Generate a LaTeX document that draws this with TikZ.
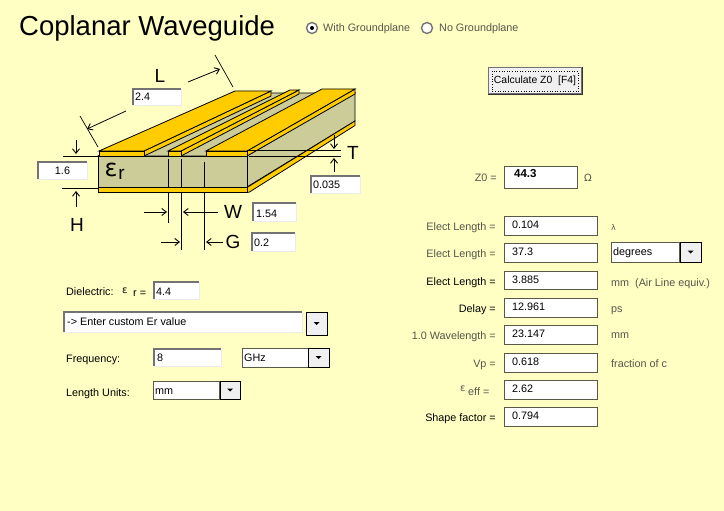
\documentclass[tikz,border=0pt]{standalone}
\usepackage{fontspec}
\setmainfont{Liberation Sans}
\newfontfamily\greekfont{DejaVu Sans}
\usetikzlibrary{arrows.meta,calc}
\definecolor{bgyel}{HTML}{FFFFC4}
\definecolor{gold}{HTML}{FFCC00}
\definecolor{diel}{HTML}{CCCC99}
\definecolor{dimtxt}{HTML}{55554A}
\definecolor{btn}{HTML}{F0F0F0}
\tikzset{
  edge/.style={draw=black,line width=0.8pt,line join=miter},
  goldface/.style={edge,fill=gold},
  dielface/.style={edge,fill=diel},
  dimline/.style={draw=black,line width=0.9pt},
  dimarrow/.style={draw=black,line width=0.8pt,-{Straight Barb[length=4.5pt,width=7pt,line width=0.9pt]}},
  ui/.style={font=\fontsize{10.8}{12}\selectfont,inner sep=0pt,anchor=base west,text=black},
  uidim/.style={ui,text=dimtxt},
  uir/.style={ui,anchor=base east},
  uirdim/.style={uidim,anchor=base east},
  biglab/.style={font=\fontsize{19}{20}\selectfont,inner sep=0pt,anchor=center},
  sunken/.style={fill=white,draw=none,inner sep=0pt},
  flatbox/.style={fill=white,draw=black!65!bgyel,line width=1pt,inner sep=0pt},
  combobtn/.style={fill=btn,draw=black,line width=1pt,inner sep=0pt},
}
% sunken field: name x1 y1 x2 y2
\newcommand{\sunkbox}[5]{%
  \node[sunken,minimum width={(#4-#2)*1pt},minimum height={(#5-#3)*1pt}] (#1) at ({(#2+#4)/2},{(#3+#5)/2}) {};
  \draw[draw=black!8,line width=1pt] (#1.north east) -- (#1.south east) -- (#1.south west);
  \draw[draw=black!55,line width=1.5pt] (#1.south west) -- (#1.north west) -- (#1.north east);
}
\newcommand{\flatfield}[5]{%
  \node[flatbox,minimum width={(#4-#2)*1pt},minimum height={(#5-#3)*1pt}] (#1) at ({(#2+#4)/2},{(#3+#5)/2}) {};
}
\newcommand{\dropbtn}[5]{%
  \node[combobtn,minimum width={(#4-#2)*1pt},minimum height={(#5-#3)*1pt}] (#1) at ({(#2+#4)/2},{(#3+#5)/2}) {};
  \fill[black] ($(#1.center)+(-3,-1.5)$) -- ++(6,0) -- ++(-3,3) -- cycle;
}
\begin{document}
\begin{tikzpicture}[x=1pt,y=-1pt]
\useasboundingbox (0,0) rectangle (724,511);
\fill[bgyel] (0,0) rectangle (724,511);

% title and radios
\node[inner sep=0pt,anchor=base west,font=\fontsize{27.5}{30}\selectfont] (title) at (19,36) {Coplanar Waveguide};
\node[circle,draw=black!55,fill=white,line width=1.4pt,minimum size=11pt,inner sep=0pt] (radA) at (312,28) {};
\fill[black] (radA.center) circle (2pt);
\node[uidim] (radAt) at (323,32) {With Groundplane};
\node[circle,draw=black!55,fill=white,line width=1.4pt,minimum size=11pt,inner sep=0pt] (radB) at (427,28) {};
\node[uidim] (radBt) at (439,32) {No Groundplane};

% calculate button
\node[fill=btn,draw=black!55,line width=1.5pt,minimum width=93pt,minimum height=26pt,inner sep=0pt] (calc) at (535,80.5) {};
\draw[black!80,line width=1pt] (calc.south west) -- (calc.south east) -- (calc.north east);
\draw[black,line width=0.6pt,dotted] (492,71) rectangle (578,91.5);
\node[ui,anchor=center,font=\fontsize{10.4}{12}\selectfont] (calct) at (535,81) {Calculate Z0\ \ [F4]};

% substrate
\path[dielface] (98,156) -- (235,93) -- (355,93) -- (247,156) -- cycle;
\path[dielface] (247,156) -- (355,93) -- (355,121) -- (247,187) -- cycle;
\path[dielface] (98,156) rectangle (247,188);

% left trace
\path[goldface] (144,151) -- (271,91) -- (271,96) -- (144,156) -- cycle;
\path[goldface] (99,151) -- (235,91) -- (271,91) -- (144,151) -- cycle;
\path[goldface] (99,151) rectangle (144,156);
% centre trace
\path[goldface] (181,151) -- (299,90) -- (299,94) -- (181,156) -- cycle;
\path[goldface] (168,151) -- (290,90) -- (299,90) -- (181,151) -- cycle;
\path[goldface] (168,151) rectangle (181,156);
% right trace
\path[goldface] (247,151) -- (355,89) -- (355,94) -- (247,156) -- cycle;
\path[goldface] (206,151) -- (322,89) -- (355,89) -- (247,151) -- cycle;
\path[goldface] (206,151) rectangle (247,156);

% W / G extension lines inside and below the substrate
\coordinate (wa) at (168,159); \coordinate (wb) at (168,223);
\coordinate (wc) at (181,159); \coordinate (wd) at (181,250);
\coordinate (ge) at (204,162); \coordinate (gf) at (204,250);
\draw[dimline] (wa) -- (wb);
\draw[dimline] (wc) -- (wd);
\draw[dimline] (ge) -- (gf);

% ground plane
\path[goldface] (247,187.5) -- (355,121) -- (355,125.5) -- (249,192.3) -- (247,192.3) -- cycle;
\path[goldface] (98,187.5) rectangle (247,192.3);

% dimension lines
\coordinate (h1) at (63,156); \coordinate (h2) at (98,156);
\coordinate (h3) at (62,188); \coordinate (h4) at (98,188);
\draw[dimline] (h1) -- (h2);
\draw[dimline] (h3) -- (h4);
\coordinate (t1) at (247,150.5); \coordinate (t2) at (341,150.5);
\coordinate (t3) at (249,156.5); \coordinate (t4) at (341,156.5);
\draw[dimline] (t1) -- (t2);
\draw[dimline] (t3) -- (t4);
\coordinate (l1) at (80,116); \coordinate (l2) at (98,147);
\coordinate (l3) at (215,55); \coordinate (l4) at (233,87);
\draw[dimline,line width=0.7pt] (l1) -- (l2);
\draw[dimline,line width=0.7pt] (l3) -- (l4);

% dimension arrows
\coordinate (ha1) at (76,140); \coordinate (ha2) at (76,154);
\coordinate (ha3) at (76,207); \coordinate (ha4) at (76,191);
\draw[dimarrow] (ha1) -- (ha2);
\draw[dimarrow] (ha3) -- (ha4);
\coordinate (ta1) at (334,135); \coordinate (ta2) at (334,149);
\coordinate (ta3) at (334,172); \coordinate (ta4) at (334,158);
\draw[dimarrow] (ta1) -- (ta2);
\draw[dimarrow] (ta3) -- (ta4);
\coordinate (la1) at (126,111); \coordinate (la2) at (87,129);
\coordinate (la3) at (188,82);  \coordinate (la4) at (220,69);
\draw[dimarrow] (la1) -- (la2);
\draw[dimarrow] (la3) -- (la4);
\coordinate (wa1) at (144,212); \coordinate (wa2) at (167,212);
\coordinate (wa3) at (218,212); \coordinate (wa4) at (183,212);
\draw[dimarrow] (wa1) -- (wa2);
\draw[dimarrow] (wa3) -- (wa4);
\coordinate (ga1) at (161,242); \coordinate (ga2) at (180,242);
\coordinate (ga3) at (223,242); \coordinate (ga4) at (206,242);
\draw[dimarrow] (ga1) -- (ga2);
\draw[dimarrow] (ga3) -- (ga4);

% big labels
\node[biglab] (labL) at (160,76) {L};
\node[biglab] (labT) at (353,153) {T};
\node[biglab] (labH) at (77,225) {H};
\node[biglab] (labW) at (233,212) {W};
\node[biglab] (labG) at (233,242) {G};
\node[inner sep=0pt,font=\greekfont\fontsize{24}{26}\selectfont] (eps) at (111,170) {ε};
\node[inner sep=0pt,font=\fontsize{19}{20}\selectfont] (epr) at (121.5,174) {r};

% drawing fields
\sunkbox{fL}{133}{89}{181}{105}
\node[ui] (fLt) at (135,101) {2.4};
\sunkbox{fH}{38}{162}{87}{179}
\node[ui,anchor=base] (fHt) at (62.5,175) {1.6};
\sunkbox{fT}{311}{176}{360}{193}
\node[ui] (fTt) at (313,189) {0.035};
\sunkbox{fW}{253}{203}{296}{221}
\node[ui] (fWt) at (256,217) {1.54};
\sunkbox{fG}{252}{233}{295}{251}
\node[ui] (fGt) at (254,246) {0.2};

% left form
\node[ui] (dielt) at (66,295) {Dielectric:};
\node[inner sep=0pt,anchor=base west,font=\greekfont\fontsize{10}{12}\selectfont] (dieleps) at (122,293) {ε};
\node[ui] (dielr) at (133,296) {r =};
\sunkbox{fEr}{154}{282}{199}{299}
\node[ui] (fErt) at (156,295) {4.4};
\sunkbox{cbEr}{64}{312}{302}{332}
\node[ui] (cbErt) at (67,325.5) {-> Enter custom Er value};
\dropbtn{btnEr}{306}{312}{327}{335}
\node[ui] (freqt) at (66,362) {Frequency:};
\sunkbox{fF}{154}{349}{221}{366}
\node[ui] (fFt) at (157,361.5) {8};
\flatfield{cbF}{242}{348}{308}{367}
\node[ui] (cbFt) at (244,361) {GHz};
\dropbtn{btnF}{308}{348}{329}{367}
\node[ui] (lent) at (66,396) {Length Units:};
\flatfield{cbL}{153}{381}{219}{399}
\node[ui] (cbLt) at (155,394) {mm};
\dropbtn{btnL}{220}{381}{240}{399}

% Z0
\node[uirdim] (z0t) at (497,182) {Z0 =};
\flatfield{fZ}{504}{166}{577}{188}
\node[ui,font=\bfseries\fontsize{11.5}{13}\selectfont] (fZt) at (514,178) {44.3};
\node[inner sep=0pt,anchor=base west,text=dimtxt,font=\greekfont\fontsize{10}{12}\selectfont] (ohm) at (584,182) {Ω};

% results
\flatfield{r1}{504}{216}{597}{235}
\node[uirdim] (r1l) at (496,230) {Elect Length =};
\node[ui] (r1v) at (512,228) {0.104};
\node[inner sep=0pt,anchor=base west,text=dimtxt,font=\greekfont\fontsize{8}{10}\selectfont] (r1u) at (611,230) {λ};

\flatfield{r2}{504}{243}{597}{262}
\node[uirdim] (r2l) at (496,257) {Elect Length =};
\node[ui] (r2v) at (512,255) {37.3};
\flatfield{cbD}{611}{242}{679}{262}
\node[ui] (cbDt) at (613,255) {degrees};
\dropbtn{btnD}{680}{242}{701}{262}

\flatfield{r3}{504}{271}{597}{289}
\node[uir] (r3l) at (496,285) {Elect Length =};
\node[ui] (r3v) at (512,283) {3.885};
\node[uidim] (r3u) at (611,286) {mm\ \ (Air Line equiv.)};

\flatfield{r4}{504}{298}{597}{317}
\node[uir] (r4l) at (496,312) {Delay =};
\node[ui] (r4v) at (512,310) {12.961};
\node[uidim] (r4u) at (611,312) {ps};

\flatfield{r5}{504}{325}{597}{344}
\node[uirdim] (r5l) at (496,339) {1.0 Wavelength =};
\node[ui] (r5v) at (512,337) {23.147};
\node[uidim] (r5u) at (611,338) {mm};

\flatfield{r6}{504}{353}{597}{372}
\node[uirdim] (r6l) at (496,367) {Vp =};
\node[ui] (r6v) at (512,365) {0.618};
\node[uidim] (r6u) at (611,367) {fraction of c};

\flatfield{r7}{504}{380}{597}{399}
\node[inner sep=0pt,anchor=base west,text=dimtxt,font=\greekfont\fontsize{10}{12}\selectfont] (r7e) at (460,391) {ε};
\node[uidim] (r7l) at (468,395) {eff =};
\node[ui] (r7v) at (512,392) {2.62};

\flatfield{r8}{504}{407}{597}{426}
\node[uir] (r8l) at (496,421) {Shape factor =};
\node[ui] (r8v) at (512,419) {0.794};
\end{tikzpicture}
\end{document}
